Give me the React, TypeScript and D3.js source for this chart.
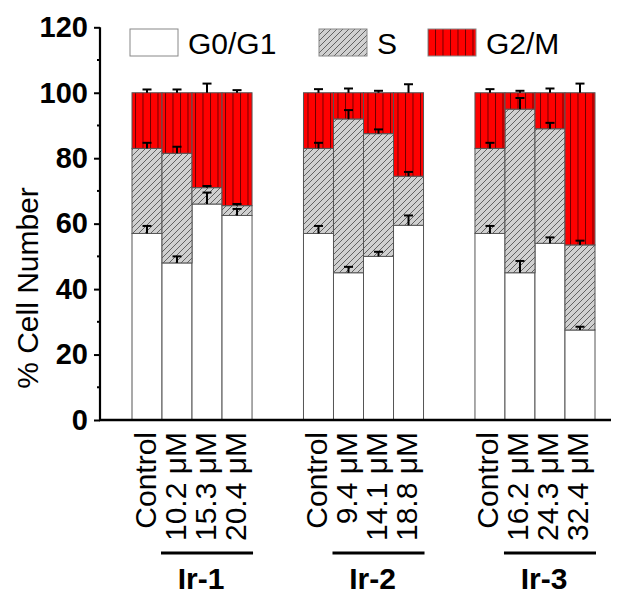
import React, { useEffect, useRef } from "react";
import * as d3 from "d3";

const groups = ["Ir-1", "Ir-2", "Ir-3"];
const conditions = [
  ["Control", "10.2 μM", "15.3 μM", "20.4 μM"],
  ["Control", "9.4 μM", "14.1 μM", "18.8 μM"],
  ["Control", "16.2 μM", "24.3 μM", "32.4 μM"],
];
const phases = ["G0/G1", "S", "G2/M"];

// % of cells in each phase, per group and condition
const g0g1 = [
  [57, 48, 66, 62.5],
  [57, 45, 50, 59.5],
  [57, 45, 54, 27.5],
];
const sPhase = [
  [26, 33.5, 5, 3],
  [26, 47, 37.5, 15],
  [26, 50, 35, 26],
];
const g2m = [
  [17, 18.5, 29, 34.5],
  [17, 8, 12.5, 25.5],
  [17, 5, 11, 46.5],
];
// error bars (positive side only)
const g0g1Err = [
  [2.3, 2, 3.5, 2],
  [2.3, 1.8, 1.4, 3],
  [2.3, 3.6, 1.8, 1],
];
const sErr = [
  [1.7, 2, 0.5, 0.5],
  [1.7, 2.7, 1.3, 1.3],
  [1.7, 3.4, 1.8, 1.3],
];
const g2mErr = [
  [1, 1, 2.8, 0.8],
  [1.1, 1.3, 0.6, 2.6],
  [1.1, 0.6, 1.3, 2.8],
];
const yTicks = [0, 20, 40, 60, 80, 100, 120];

const width = 620;
const height = 595;
const font = "'Liberation Sans', Arial, sans-serif";

export default function App() {
  const ref = useRef<SVGSVGElement>(null);

  useEffect(() => {
    const svg = d3.select(ref.current);
    svg.selectAll("*").remove();

    const y = d3.scaleLinear().domain([0, 120]).range([420, 27.3]);
    const xGroup = d3.scaleBand().domain(groups).range([132, 595]).paddingInner(0.3).paddingOuter(0);
    const xCond = d3.scaleBand<number>().domain([0, 1, 2, 3]).range([0, xGroup.bandwidth()]);

    const defs = svg.append("defs");
    const hatch = defs
      .append("pattern")
      .attr("id", "hatch")
      .attr("patternUnits", "userSpaceOnUse")
      .attr("width", 6)
      .attr("height", 6);
    hatch.append("rect").attr("width", 6).attr("height", 6).attr("fill", "#d0d0d0");
    hatch
      .append("path")
      .attr("d", "M-1,1 l2,-2 M0,6 l6,-6 M5,7 l2,-2")
      .attr("stroke", "#555")
      .attr("stroke-width", 0.9);

    const vert = defs
      .append("pattern")
      .attr("id", "vert")
      .attr("patternUnits", "userSpaceOnUse")
      .attr("width", 7.5)
      .attr("height", 10);
    vert.append("rect").attr("width", 7.5).attr("height", 10).attr("fill", "#ff0000");
    vert
      .append("line")
      .attr("x1", 0.5)
      .attr("x2", 0.5)
      .attr("y1", 0)
      .attr("y2", 10)
      .attr("stroke", "#5a0000")
      .attr("stroke-width", 0.9);

    const fills = ["#ffffff", "url(#hatch)", "url(#vert)"];

    // flatten into rows for d3.stack
    const rows: any[] = [];
    groups.forEach((g, gi) => {
      conditions[gi].forEach((c, ci) => {
        rows.push({
          group: g,
          gi,
          ci,
          label: c,
          "G0/G1": g0g1[gi][ci],
          S: sPhase[gi][ci],
          "G2/M": g2m[gi][ci],
          errs: [g0g1Err[gi][ci], sErr[gi][ci], g2mErr[gi][ci]],
        });
      });
    });
    const stacked = d3.stack().keys(phases)(rows);
    const barX = (d: any) => (xGroup(d.group) as number) + (xCond(d.ci) as number);

    stacked.forEach((layer, li) => {
      svg
        .append("g")
        .selectAll("rect")
        .data(layer)
        .join("rect")
        .attr("x", (d: any) => barX(d.data))
        .attr("y", (d) => y(d[1]))
        .attr("width", xCond.bandwidth())
        .attr("height", (d) => y(d[0]) - y(d[1]))
        .attr("fill", fills[li])
        .attr("stroke", "#555")
        .attr("stroke-width", 1);
    });

    // error bars
    stacked.forEach((layer, li) => {
      const eg = svg.append("g").attr("stroke", "#000").attr("stroke-width", 2);
      layer.forEach((d: any) => {
        const cx = barX(d.data) + xCond.bandwidth() / 2;
        const top = y(d[1] + d.data.errs[li]);
        eg.append("line").attr("x1", cx).attr("x2", cx).attr("y1", y(d[1])).attr("y2", top);
        eg.append("line").attr("x1", cx - 4.5).attr("x2", cx + 4.5).attr("y1", top).attr("y2", top);
      });
    });

    // y axis
    const yAxis = svg.append("g").attr("transform", "translate(100,0)");
    yAxis
      .call(d3.axisLeft(y).tickValues(yTicks).tickSize(6).tickPadding(6))
      .call((g) => g.select(".domain").remove());
    yAxis
      .selectAll(".tick line")
      .attr("stroke", "#000")
      .attr("stroke-width", 2);
    yAxis
      .selectAll(".tick text")
      .attr("font-family", font)
      .attr("font-size", 29)
      .attr("font-weight", "bold")
      .attr("fill", "#000");
    yAxis
      .append("g")
      .selectAll("line")
      .data(d3.range(10, 120, 20))
      .join("line")
      .attr("x1", -3)
      .attr("x2", 0)
      .attr("y1", (d) => y(d))
      .attr("y2", (d) => y(d))
      .attr("stroke", "#000")
      .attr("stroke-width", 2);
    yAxis
      .append("line")
      .attr("x1", 0)
      .attr("x2", 0)
      .attr("y1", y(120))
      .attr("y2", y(0) + 1)
      .attr("stroke", "#000")
      .attr("stroke-width", 2.2);

    // x axis line
    svg
      .append("line")
      .attr("x1", 99)
      .attr("x2", 611)
      .attr("y1", y(0))
      .attr("y2", y(0))
      .attr("stroke", "#000")
      .attr("stroke-width", 2.5);

    svg
      .append("text")
      .attr("transform", "translate(38,288) rotate(-90)")
      .attr("text-anchor", "middle")
      .attr("font-family", font)
      .attr("font-size", 30)
      .attr("fill", "#000")
      .text("% Cell Number");

    // condition labels
    svg
      .append("g")
      .selectAll("text")
      .data(rows)
      .join("text")
      .attr("transform", (d) => `translate(${barX(d) + xCond.bandwidth() / 2 - 2},432) rotate(-90)`)
      .attr("dy", "0.35em")
      .attr("text-anchor", "end")
      .attr("font-family", font)
      .attr("font-size", 30)
      .attr("fill", "#000")
      .text((d) => d.label);

    // group underline + name
    groups.forEach((g) => {
      const gx = xGroup(g) as number;
      svg
        .append("line")
        .attr("x1", gx + (xCond(1) as number) - 1)
        .attr("x2", gx + (xCond(3) as number) + xCond.bandwidth() + 1)
        .attr("y1", 553)
        .attr("y2", 553)
        .attr("stroke", "#000")
        .attr("stroke-width", 3);
      svg
        .append("text")
        .attr("x", gx + xGroup.bandwidth() / 2 + 9)
        .attr("y", 589)
        .attr("text-anchor", "middle")
        .attr("font-family", font)
        .attr("font-size", 30)
        .attr("font-weight", "bold")
        .attr("fill", "#000")
        .text(g);
    });

    // legend
    const legendX = [130, 319, 428];
    const legend = svg.append("g");
    phases.forEach((p, i) => {
      legend
        .append("rect")
        .attr("x", legendX[i])
        .attr("y", 29)
        .attr("width", 48)
        .attr("height", 27)
        .attr("fill", fills[i])
        .attr("stroke", "#888")
        .attr("stroke-width", 1);
      legend
        .append("text")
        .attr("x", legendX[i] + 58)
        .attr("y", 54)
        .attr("font-family", font)
        .attr("font-size", 30)
        .attr("fill", "#000")
        .text(p);
    });
  }, []);

  return (
    <div style={{ position: "absolute", left: 0, top: 0 }}>
      <svg ref={ref} width={width} height={height} style={{ display: "block", background: "#fff" }} />
    </div>
  );
}
